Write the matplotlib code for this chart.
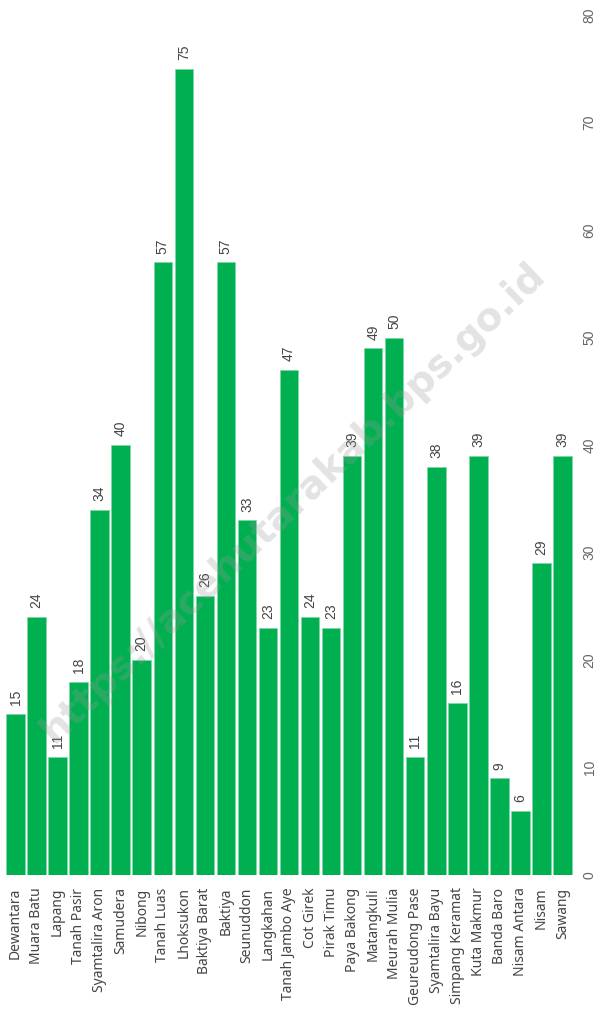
import matplotlib.pyplot as plt

kecamatan = ["Dewantara", "Muara Batu", "Lapang", "Tanah Pasir", "Syamtalira Aron",
             "Samudera", "Nibong", "Tanah Luas", "Lhoksukon", "Baktiya Barat",
             "Baktiya", "Seunuddon", "Langkahan", "Tanah Jambo Aye", "Cot Girek",
             "Pirak Timu", "Paya Bakong", "Matangkuli", "Meurah Mulia", "Geureudong Pase",
             "Syamtalira Bayu", "Simpang Keramat", "Kuta Makmur", "Banda Baro",
             "Nisam Antara", "Nisam", "Sawang"]
jumlah = [15, 24, 11, 18, 34, 40, 20, 57, 75, 26, 57, 33, 23, 47, 24, 23, 39, 49, 50,
          11, 38, 16, 39, 9, 6, 29, 39]
yticks = [0, 10, 20, 30, 40, 50, 60, 70, 80]

fig = plt.figure(figsize=(5.97, 10.15), dpi=100)
ax = fig.add_axes([5 / 597, 140 / 1015, 568 / 597, 860 / 1015])

x = list(range(len(kecamatan)))
bars = ax.bar(x, jumlah, width=0.88, color="#00b050", edgecolor="#7fd8a6", linewidth=0.6)

for xi, v in zip(x, jumlah):
    ax.text(xi, v + 0.8, str(v), rotation=90, ha="center", va="bottom",
            fontsize=10, color="#444444", family="Liberation Sans")

ax.set_xlim(-0.5, len(kecamatan) - 0.5)
ax.set_ylim(0, 80)
ax.set_xticks(x)
ax.set_xticklabels(kecamatan, rotation=90, fontsize=10, color="#444444", family="Noto Sans")
ax.set_yticks(yticks)
ax.set_yticklabels([str(t) for t in yticks], rotation=90, va="center",
                   fontsize=10, color="#666666", family="Liberation Sans")
ax.yaxis.tick_right()
ax.tick_params(axis="both", length=0)
ax.tick_params(axis="y", pad=7)
ax.tick_params(axis="x", pad=9)
for s in ax.spines.values():
    s.set_visible(False)

# watermark
fig.text(0.49, 0.505, "https://acehutarakab.bps.go.id", rotation=43.5, ha="center", va="center",
         fontsize=28, fontweight="bold", color="#999999", alpha=0.28, family="DejaVu Sans")

plt.savefig("out.png", dpi=100)
plt.close()
